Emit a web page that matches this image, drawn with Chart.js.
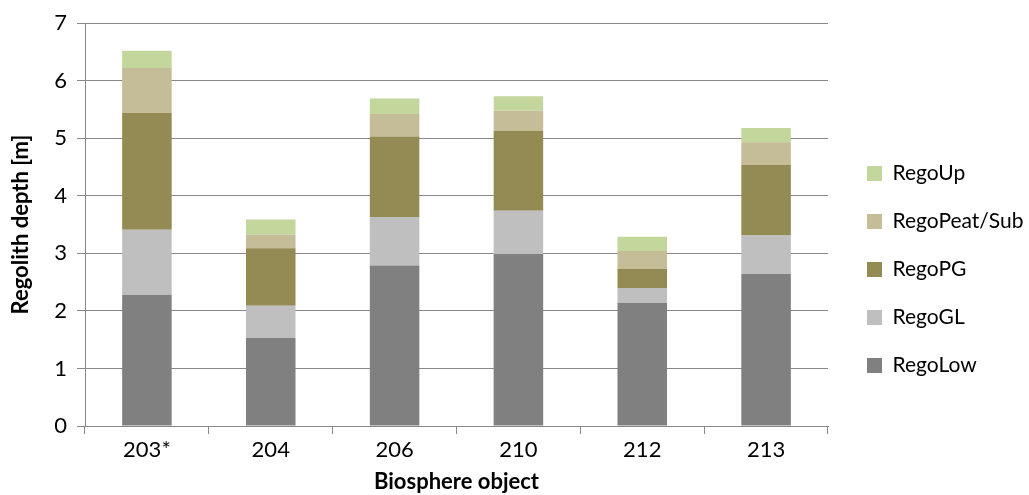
<!DOCTYPE html>
<html>
<head>
<meta charset="utf-8">
<script src="https://cdn.jsdelivr.net/npm/chart.js@4"></script>
<style>
  html, body { margin: 0; padding: 0; background: #fff; }
  #wrap { width: 1029px; height: 495px; }
</style>
</head>
<body>
<div id="wrap"><canvas id="bar-chart"></canvas></div>
<script>
// biosphere objects
var objects = ["203*", "204", "206", "210", "212", "213"];

// regolith layer thickness per object [m]
var regoLow      = [2.28, 1.53, 2.79, 2.99, 2.14, 2.64];
var regoGL       = [1.13, 0.56, 0.84, 0.75, 0.26, 0.67];
var regoPG       = [2.03, 1.00, 1.40, 1.39, 0.33, 1.23];
var regoPeatSub  = [0.78, 0.24, 0.39, 0.35, 0.31, 0.39];
var regoUp       = [0.30, 0.26, 0.27, 0.25, 0.25, 0.25];

var yTicks = [0, 1, 2, 3, 4, 5, 6, 7];

var gridGray = "#888888";
var fontName = "Lato";

// push legend block down a bit, like the original
var legendShift = {
  id: 'legendShift',
  afterLayout: function(chart) {
    chart.legend.top += 13;
    chart.legend.bottom += 13;
  }
};

new Chart(document.getElementById("bar-chart"), {
  type: 'bar',
  data: {
    labels: objects,
    datasets: [
      { label: "RegoLow", data: regoLow, backgroundColor: "#808080" },
      { label: "RegoGL", data: regoGL, backgroundColor: "#bfbfbf" },
      { label: "RegoPG", data: regoPG, backgroundColor: "#948a54" },
      { label: "RegoPeat/Sub", data: regoPeatSub, backgroundColor: "#c4bd97" },
      { label: "RegoUp", data: regoUp, backgroundColor: "#c3d69b" }
    ]
  },
  plugins: [legendShift],
  options: {
    responsive: true,
    maintainAspectRatio: false,
    animation: false,
    datasets: {
      bar: { categoryPercentage: 0.8, barPercentage: 0.5, borderWidth: 0 }
    },
    layout: { padding: { top: 18, left: 0, right: 0, bottom: 0 } },
    plugins: {
      tooltip: { enabled: false },
      legend: {
        position: 'right',
        reverse: true,
        maxWidth: 189,
        labels: {
          boxWidth: 15,
          boxHeight: 15,
          padding: 27,
          color: "#000",
          font: { family: fontName, size: 21 }
        }
      }
    },
    scales: {
      x: {
        stacked: true,
        grid: { offset: true, drawOnChartArea: false, drawTicks: true, tickLength: 8, color: gridGray },
        border: { color: gridGray },
        ticks: { color: "#000", padding: 3, font: { family: fontName, size: 22 } },
        title: {
          display: true,
          text: "Biosphere object",
          color: "#000",
          font: { family: fontName, size: 22, weight: 'bold' },
          padding: { top: 0, bottom: 0 }
        },
        afterFit: function(scale) { scale.height = 69; }
      },
      y: {
        stacked: true,
        min: 0,
        max: 7,
        afterBuildTicks: function(scale) {
          scale.ticks = yTicks.map(function(v) { return { value: v }; });
        },
        grid: { color: gridGray, tickLength: 8 },
        border: { color: gridGray },
        ticks: { color: "#000", padding: 10, font: { family: fontName, size: 22 } },
        title: {
          display: true,
          text: "Regolith depth [m]",
          color: "#000",
          font: { family: fontName, size: 22, weight: 'bold' },
          padding: { top: 8, bottom: 4 }
        },
        afterFit: function(scale) { scale.width = 85; }
      },
      gap: {
        position: 'right',
        display: true,
        grid: { display: false },
        border: { display: false },
        ticks: { display: false },
        afterFit: function(scale) { scale.width = 12; }
      }
    }
  }
});
</script>
</body>
</html>
